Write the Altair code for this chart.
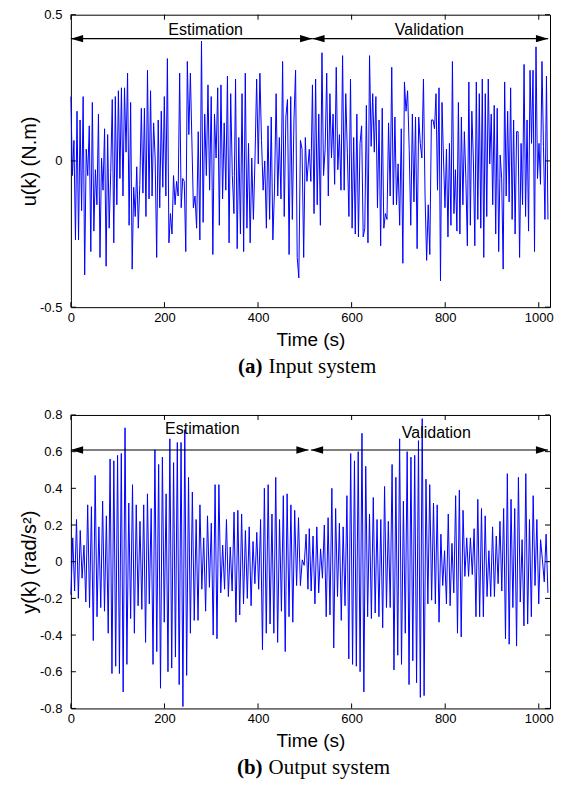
import altair as alt
import pandas as pd
import numpy as np

# ---------------- data ----------------
# Panel (a): input u(k), vertices read per time segment (t_start, t_end, values)
u_seg1 = (0, 255.4, [0.22, -0.05, 0.07, -0.27, 0.17, -0.27, 0.14, -0.17, 0.22, -0.39, 0.04, -0.05, 0.12, -0.31,
                     0.20, -0.24, -0.03, -0.15, 0.16, -0.33, 0.01, -0.10, 0.11, -0.36, 0.09, -0.23, -0.04, 0.21,
                     -0.28, 0.22, -0.15, 0.24, -0.06, 0.25, -0.12, 0.25, 0.03, 0.30, -0.22, 0.20, -0.37, -0.09,
                     -0.19, -0.02, -0.23, -0.08, 0.18, -0.11, 0.18, -0.19, 0.31, -0.13, 0.24, -0.12, 0.13, 0.01,
                     -0.33, 0.14, -0.16, 0.17, -0.09, 0.22, -0.12, 0.35, -0.28, -0.18, -0.25, -0.05, -0.15, -0.07,
                     -0.12, 0.30, -0.16, -0.06, -0.07, -0.31, 0.34, 0.09, 0.30])
u_seg2 = (261.8, 504.5, [-0.16, -0.12, -0.23, 0.10, -0.27, 0.41, -0.21, 0.16, -0.05, 0.26, -0.10, 0.22, -0.32, 0.16,
                         0.01, 0.25, -0.22, 0.26, -0.13, 0.13, -0.10, 0.29, -0.28, 0.23, -0.05, -0.18, 0.28, -0.30,
                         0.08, -0.25, 0.23, -0.31, 0.30, -0.23, 0.06, -0.28, 0.01, -0.20, 0.01, 0.28, -0.01, 0.30,
                         0.07, -0.10, 0.00, -0.23, 0.12, -0.20, 0.15, -0.27, -0.10, 0.23, -0.12, 0.08, -0.13, 0.34,
                         -0.19, 0.15, 0.21, -0.32, 0.22, -0.20, 0.14, 0.31, -0.33, -0.40, 0.07, 0.04, -0.33, 0.08,
                         -0.07])
u_seg3 = (509.5, 770.5, [0.04, -0.07, 0.26, -0.18, 0.28, -0.15, 0.16, -0.22, 0.37, -0.05, 0.04, 0.30, -0.12, 0.23,
                         0.01, 0.16, -0.08, 0.32, -0.03, 0.09, -0.10, 0.36, -0.10, 0.23, 0.03, -0.19, 0.28, -0.23,
                         0.08, -0.25, 0.16, -0.26, 0.06, 0.12, -0.26, -0.23, 0.19, -0.28, 0.36, 0.05, 0.23, 0.03,
                         0.22, -0.16, 0.14, -0.29, 0.18, -0.23, -0.18, -0.20, 0.13, -0.12, 0.32, -0.15, 0.15, -0.15,
                         -0.01, -0.22, 0.11, -0.35, 0.27, 0.17, 0.24, 0.04, -0.22, 0.16, -0.14, 0.15, -0.30, 0.15,
                         0.06, 0.01, 0.28, -0.12, -0.34, -0.15, -0.32, 0.14])
u_seg4 = (774, 1019.6, [0.14, 0.11, 0.23, -0.10, 0.25, -0.41, 0.20, 0.01, -0.16, 0.04, -0.26, 0.06, -0.22, 0.34,
                        -0.18, -0.03, -0.24, 0.20, -0.25, 0.15, -0.15, 0.10, -0.06, -0.29, 0.27, -0.22, 0.17, 0.01,
                        -0.29, 0.27, -0.20, 0.23, -0.23, 0.28, -0.33, 0.23, -0.19, 0.28, -0.01, 0.16, -0.15, 0.19,
                        -0.25, 0.18, -0.31, 0.02, -0.06, -0.37, 0.27, -0.12, 0.17, -0.14, 0.25, -0.20, 0.14, -0.25,
                        0.10, 0.10, -0.33, 0.06, -0.15, 0.33, -0.19, 0.14, -0.24, 0.31, 0.06, 0.31, -0.31, 0.39,
                        -0.06, 0.06, -0.08, 0.34, 0.05, -0.20, 0.29, -0.20])

# Panel (b): output y(k)
y_seg1 = (0, 255.4, [-0.18, 0.13, -0.16, 0.23, -0.20, 0.17, -0.09, 0.09, -0.22, 0.31, -0.25, 0.30, -0.43, 0.47,
                     -0.30, 0.19, -0.25, 0.33, -0.27, 0.25, -0.39, 0.56, -0.61, 0.55, -0.57, 0.58, -0.61, 0.59,
                     -0.71, 0.73, -0.56, 0.32, -0.31, 0.42, -0.39, 0.31, -0.24, 0.22, -0.26, 0.31, -0.44, 0.37,
                     -0.23, 0.29, -0.56, 0.61, -0.49, 0.53, -0.69, 0.57, -0.33, 0.37, -0.60, 0.67, -0.58, 0.54,
                     -0.52, 0.65, -0.67, 0.65, -0.79, 0.72, -0.62, 0.46, -0.39])
y_seg2 = (259.6, 506.7, [0.38, -0.32, 0.23, -0.32, 0.31, -0.15, 0.13, -0.27, 0.25, -0.14, 0.21, -0.40, 0.42, -0.42,
                         0.42, -0.17, 0.09, -0.15, 0.23, -0.19, 0.08, -0.16, 0.27, -0.33, 0.28, -0.29, 0.26, -0.23,
                         0.17, -0.20, 0.19, -0.24, 0.11, -0.12, 0.16, -0.15, 0.23, -0.48, 0.40, -0.39, 0.42, -0.34,
                         0.26, -0.39, 0.46, -0.44, 0.23, -0.27, 0.36, -0.49, 0.37, -0.30, 0.31, -0.33, 0.28, -0.13,
                         0.24, -0.13, 0.01, -0.02, 0.15, -0.15])
y_seg3 = (509.5, 771, [0.18, -0.16, 0.14, -0.23, 0.19, -0.17, 0.07, -0.09, 0.20, -0.30, 0.24, -0.29, 0.40, -0.47,
                       0.29, -0.19, 0.21, -0.32, 0.19, -0.24, 0.36, -0.53, 0.59, -0.56, 0.55, -0.57, 0.60, -0.60,
                       0.70, -0.71, 0.52, -0.30, 0.26, -0.31, 0.35, -0.28, 0.23, -0.30, 0.23, -0.36, 0.41, -0.25,
                       0.22, -0.25, 0.53, -0.59, 0.46, -0.51, 0.67, -0.56, 0.33, -0.39, 0.60, -0.67, 0.57, -0.54,
                       0.58, -0.66, 0.66, -0.74, 0.78, -0.73, 0.45, -0.23, 0.42, -0.21])
y_seg4 = (775, 1019.6, [0.32, -0.23, 0.31, -0.33, 0.15, -0.13, 0.06, -0.23, 0.26, -0.24, 0.10, -0.17, 0.36, -0.39,
                        0.39, -0.41, 0.28, -0.08, 0.13, -0.08, 0.13, -0.07, 0.18, -0.30, 0.34, -0.30, 0.29, -0.30,
                        0.25, -0.19, 0.06, -0.19, 0.19, -0.19, 0.14, -0.12, 0.22, -0.16, 0.29, -0.42, 0.48, -0.45,
                        0.34, -0.25, 0.29, -0.46, 0.46, -0.22, 0.12, -0.35, 0.48, -0.34, 0.23, -0.30, 0.36, -0.13,
                        0.23, -0.23, 0.12, 0.01, -0.11, 0.15, -0.17])

x_ticks = [0, 200, 400, 600, 800, 1000]
ya_ticks = [-0.5, 0, 0.5]
yb_ticks = [-0.8, -0.6, -0.4, -0.2, 0, 0.2, 0.4, 0.6, 0.8]

# annotation data: double arrows (start, end, level) and labels
a_arrows = {"t": [0, 516], "t2": [516, 1020], "v": [0.418, 0.418]}
a_heads = {"t": [0, 516, 516, 1020], "v": [0.418] * 4, "dir": ["L", "R", "L", "R"]}
a_labels = {"t": [288, 766], "v": [0.432, 0.432], "label": ["Estimation", "Validation"]}

b_arrows = {"t": [0, 513], "t2": [508, 1020], "v": [0.609, 0.609]}
b_heads = {"t": [0, 508, 513, 1020], "v": [0.609] * 4, "dir": ["L", "R", "L", "R"]}
b_labels = {"t": [281, 781], "v": [0.696, 0.677], "label": ["Estimation", "Validation"]}


def seg_frame(segs):
    rows = []
    for t0, t1, vals in segs:
        ts = np.linspace(t0, t1, len(vals))
        rows.append(pd.DataFrame({"t": ts, "v": vals}))
    return pd.concat(rows, ignore_index=True)


W = 480
SANS = "Liberation Sans"
SERIF = "Liberation Serif"
ARROW_R = "M0,0L-2,-0.6L-2,0.6Z"
ARROW_L = "M0,0L2,-0.6L2,0.6Z"

label_expr = ("datum.value == 0 ? '0' : (datum.value < 0 ? '-' + format(-datum.value, '.1f') "
              ": format(datum.value, '.1f'))")


def panel(df, H, ydom, yticks, ytitle, arrows, heads, labels, cap_bold, cap_text):
    xs = alt.Scale(domain=[0, 1024], nice=False, zero=False)
    ys = alt.Scale(domain=ydom, nice=False, zero=False)
    xaxis = alt.Axis(values=x_ticks, ticks=False, domain=False, grid=False, labelFontSize=13,
                     labelPadding=4, labelFlush=False, labelOverlap=False, format="d",
                     title="Time (s)", titleFontSize=19, titlePadding=6)
    yaxis = alt.Axis(values=yticks, ticks=False, domain=False, grid=False, labelFontSize=13,
                     labelPadding=9, labelFlush=False, labelOverlap=False, labelExpr=label_expr,
                     title=ytitle, titleFontSize=20, titlePadding=0)
    X = alt.X("t:Q", scale=xs, axis=xaxis)
    Y = alt.Y("v:Q", scale=ys, axis=yaxis)
    line = alt.Chart(df).mark_line(color="#0000ff", strokeWidth=1).encode(x=X, y=Y)
    xt = pd.DataFrame({"t": x_ticks})
    yt = pd.DataFrame({"v": yticks})
    tb = alt.Chart(xt).mark_rule(color="black").encode(x=X, y=alt.value(H), y2=alt.value(H - 5))
    tt = alt.Chart(xt).mark_rule(color="black").encode(x=X, y=alt.value(0), y2=alt.value(5))
    tl = alt.Chart(yt).mark_rule(color="black").encode(y=Y, x=alt.value(0), x2=alt.value(5))
    tr = alt.Chart(yt).mark_rule(color="black").encode(y=Y, x=alt.value(W - 5), x2=alt.value(W))
    arr = alt.Chart(pd.DataFrame(arrows)).mark_rule(color="black", strokeWidth=1.2).encode(
        x=X, x2="t2:Q", y=Y)
    hd = alt.Chart(pd.DataFrame(heads)).mark_point(filled=True, color="black", opacity=1, size=150).encode(
        x=X, y=Y,
        shape=alt.Shape("dir:N", scale=alt.Scale(domain=["L", "R"], range=[ARROW_L, ARROW_R]), legend=None))
    lab = alt.Chart(pd.DataFrame(labels)).mark_text(font=SANS, fontSize=16, color="black",
                                                    align="center", baseline="alphabetic").encode(
        x=X, y=Y, text="label:N")
    capb = alt.Chart(pd.DataFrame({"c": [cap_bold]})).mark_text(
        font=SERIF, fontSize=21, fontWeight="bold", color="black", align="right", baseline="middle").encode(
        text="c:N", x=alt.value(192), y=alt.value(H + 60))
    capt = alt.Chart(pd.DataFrame({"c": [cap_text]})).mark_text(
        font=SERIF, fontSize=21, color="black", align="left", baseline="middle").encode(
        text="c:N", x=alt.value(198), y=alt.value(H + 60))
    return alt.layer(line, tb, tt, tl, tr, arr, hd, lab, capb, capt).properties(width=W, height=H)


pa = panel(seg_frame([u_seg1, u_seg2, u_seg3, u_seg4]), 293, [-0.5, 0.5], ya_ticks, "u(k) (N.m)",
           a_arrows, a_heads, a_labels, "(a)", "Input system")
pb = panel(seg_frame([y_seg1, y_seg2, y_seg3, y_seg4]), 294, [-0.8, 0.8], yb_ticks, "y(k) (rad/s\u00b2)",
           b_arrows, b_heads, b_labels, "(b)", "Output system")

chart = alt.vconcat(pa, pb, spacing=30).properties(
    padding={"left": 11, "top": -1, "right": 0, "bottom": 0},
    background="white",
).configure_view(stroke="black", strokeWidth=1).configure_axis(
    labelColor="black", titleColor="black", labelFont=SANS, titleFont=SANS, titleFontWeight="normal"
).configure_concat(spacing=30)

chart.save("out.html", embed_options={"renderer": "svg", "actions": False})
